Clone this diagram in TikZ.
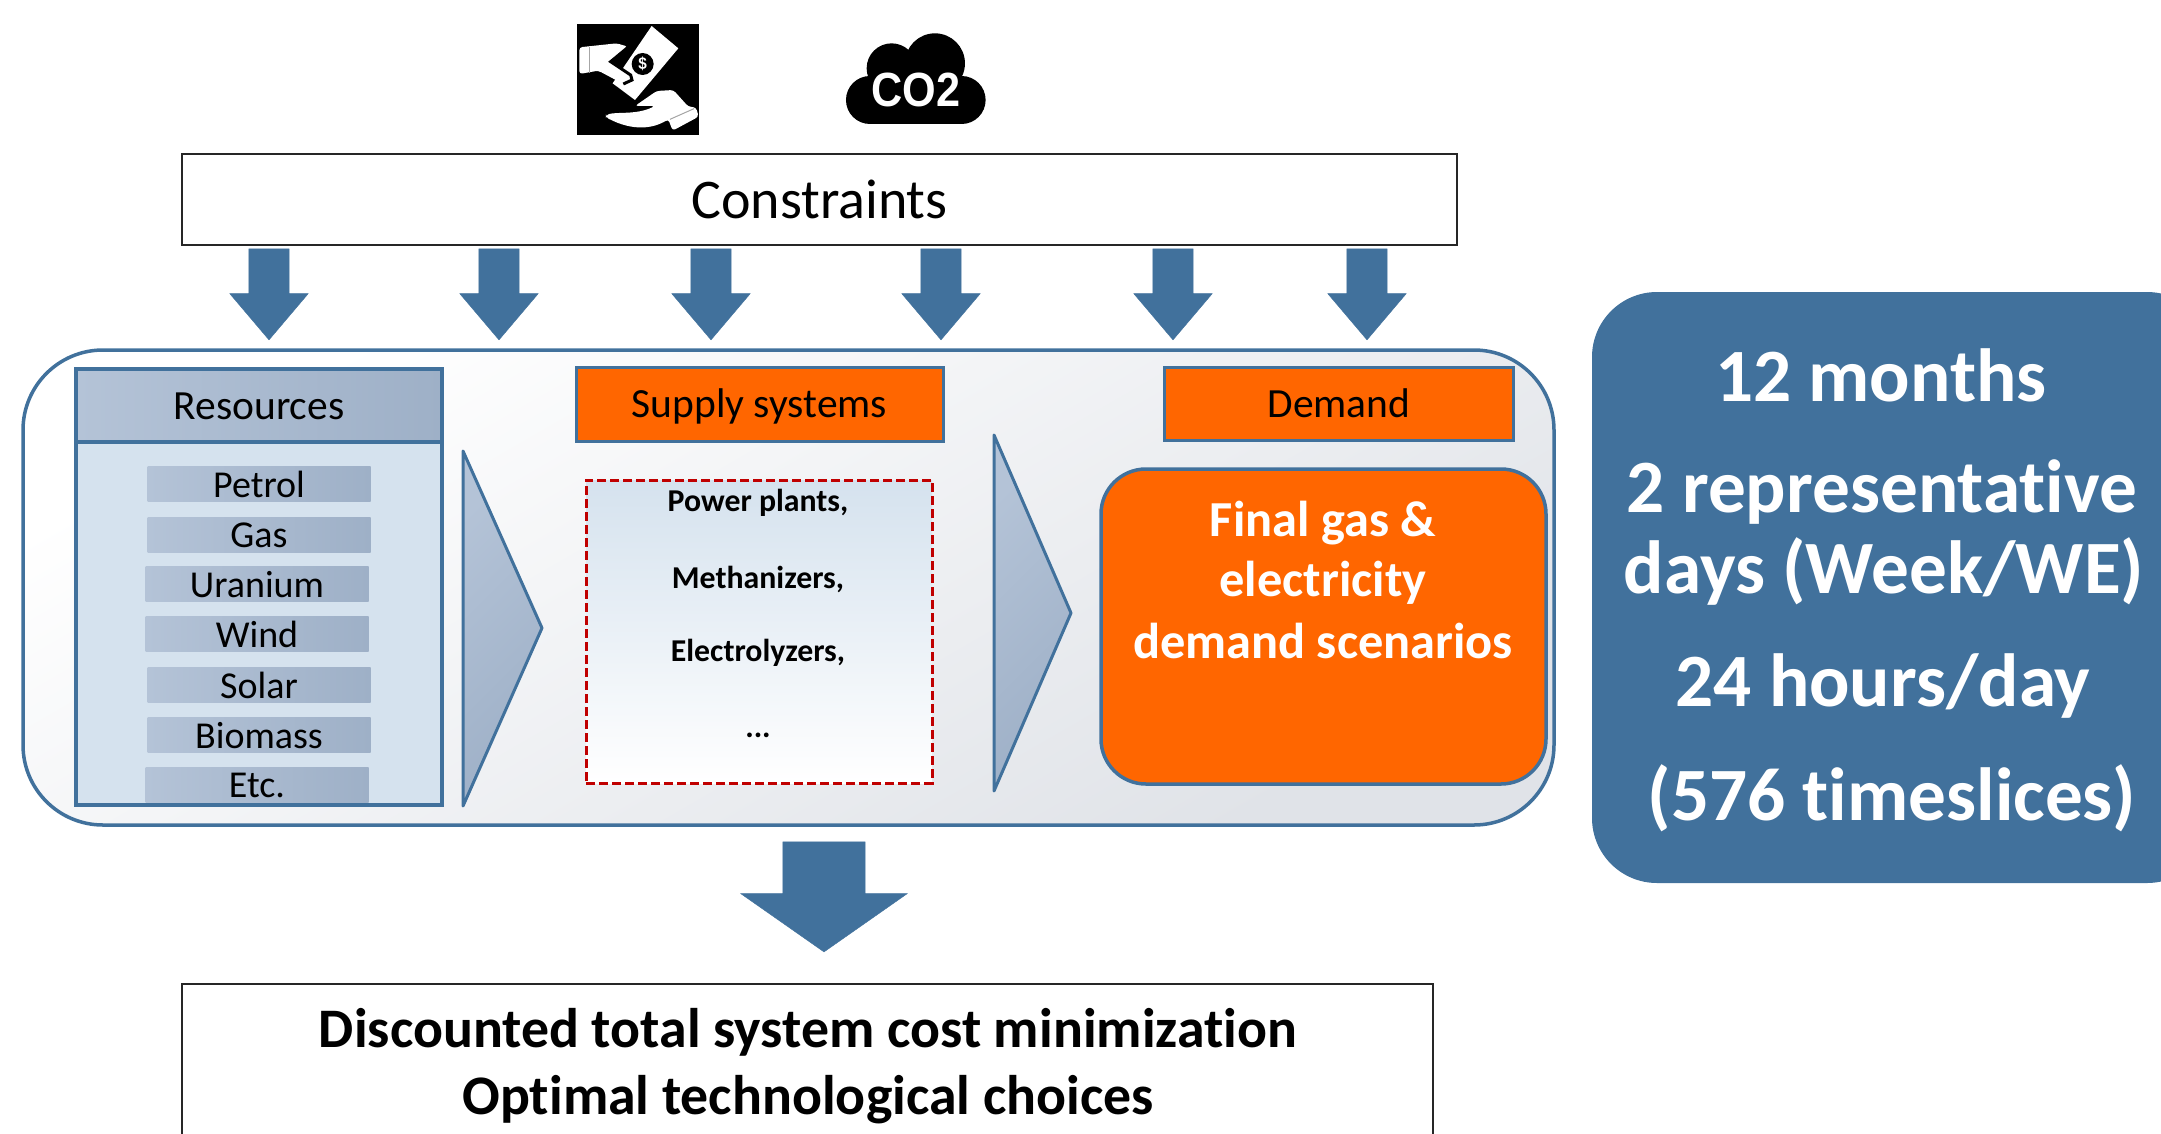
\documentclass[tikz,border=0pt]{standalone}
\usepackage{fontspec}
\setmainfont[Ligatures=NoCommon]{Carlito}
\newfontfamily\arialfont[FakeStretch=0.9]{Liberation Sans}
\usepackage{xcolor}
\definecolor{steel_blue}{RGB}{65,113,156}
\definecolor{flat_orange}{RGB}{255,102,0}
\definecolor{dash_red}{RGB}{192,0,0}
\definecolor{pale_blue}{RGB}{213,226,238}
\definecolor{head_light}{RGB}{180,195,215}
\definecolor{head_dark}{RGB}{158,176,199}
\definecolor{panel_dark}{RGB}{224,227,232}
\usetikzlibrary{shapes.arrows}
\newcommand{\fsize}[1]{\fontsize{#1}{#1}\selectfont}
\tikzset{
  downarrow/.style={shape=single arrow, shape border rotate=270, draw=steel_blue, fill=steel_blue, inner ysep=0pt, outer sep=0pt},
  smallarrow/.style={downarrow, inner xsep=20pt, minimum width=78pt, minimum height=91pt, single arrow head extend=19pt, single arrow tip angle=80.6},
  bigarrow/.style={downarrow, inner xsep=41pt, minimum width=166pt, minimum height=110pt, single arrow head extend=42pt, single arrow tip angle=110},
  itembar/.style={left color=head_light, right color=head_dark, minimum width=223pt, minimum height=35pt, inner sep=0pt, font=\fsize{38}, text depth=0pt},
  orangebox/.style={fill=flat_orange, draw=steel_blue, line width=3pt, inner sep=0pt, font=\fsize{41.5}},
  boxframe/.style={draw=black!85, line width=1.5pt, fill=white, inner sep=0pt},
  pointer/.style={left color=head_light, right color=head_dark, shading angle=45, draw=steel_blue, line width=3pt, line join=round},
  plantlabel/.style={font=\fsize{31.8}\bfseries},
  demandlabel/.style={font=\fsize{50.4}\bfseries, text=white},
  timelabel/.style={font=\fsize{75.3}\bfseries, text=white},
  resultlabel/.style={font=\fsize{55.8}\bfseries}
}
\begin{document}
\begin{tikzpicture}[x=1pt, y=-1pt]
\useasboundingbox (0,0) rectangle (2161,1133);

\begin{scope}[shift={(540,0)}, x=0.3333pt, y=-0.3333pt]
\fill[black] (110,73) rectangle (476,405);
\fill[white] (335,78) -- (415,145) -- (285,300) -- (218,250) -- cycle;
\fill[white, rounded corners=3pt] (118,142) -- (230,130) -- (264,140) -- (212,185) -- (272,225) -- (276,240) -- (250,252) -- (175,212) -- (118,222) -- cycle;
\draw[black, line width=3pt] (264,142) -- (212,185) -- (272,225) -- (276,240) -- (250,252);
\draw[black!35, line width=1pt] (149,142) -- (149,218);
\fill[white, rounded corners=3pt] (198,345) .. controls (230,335) and (290,345) .. (345,318) -- (285,318) -- (350,273) -- (400,270) -- (445,320) -- (468,322) -- (476,350) -- (398,392) -- (385,358) .. controls (340,385) and (280,395) .. (198,352) -- cycle;
\draw[black!35, line width=1pt] (390,358) -- (462,326);
\fill[black] (308,192) circle (33);
\node[white, font=\arialfont\bfseries\fsize{17}, inner sep=0pt] (dollar) at (308,192) {\$};
\fill[black] (1185,190) circle (90);
\fill[black] (1055,205) circle (75);
\fill[black] (990,300) circle (72);
\fill[black] (1265,300) circle (72);
\fill[black] (990,228) rectangle (1265,372);
\node[white, font=\arialfont\bfseries\fsize{48}, inner sep=0pt] (cotwo) at (1128,270) {CO2};
\end{scope}

\node[boxframe, minimum width=1275pt, minimum height=91pt, font=\fsize{56}] (constraints) at (819.5,199.5) {Constraints};

\node[smallarrow] (arrow_a) at (269,282.5) {};
\node[smallarrow] (arrow_b) at (499,282.5) {};
\node[smallarrow] (arrow_c) at (711,282.5) {};
\node[smallarrow] (arrow_d) at (941,282.5) {};
\node[smallarrow] (arrow_e) at (1173,282.5) {};
\node[smallarrow] (arrow_f) at (1367,282.5) {};

\node[draw=steel_blue, line width=3.5pt, rounded corners=80pt, top color=white, bottom color=panel_dark, shading angle=30, minimum width=1531pt, minimum height=475pt, inner sep=0pt] (panel) at (788.5,587.5) {};

\node[draw=steel_blue, line width=3.5pt, fill=pale_blue, minimum width=366pt, minimum height=436pt, inner sep=0pt] (resources) at (259,587) {};
\node[draw=steel_blue, line width=3.5pt, left color=head_light, right color=head_dark, minimum width=366pt, minimum height=73pt, inner sep=0pt, font=\fsize{41.5}, text height=30pt, text depth=3pt] (resources_head) at (259,405.5) {Resources};

\node[itembar] (petrol) at (259,484) {Petrol};
\node[itembar] (gas) at (259,535) {Gas};
\node[itembar] (uranium) at (257,584) {Uranium};
\node[itembar] (wind) at (257,634) {Wind};
\node[itembar] (solar) at (259,685) {Solar};
\node[itembar] (biomass) at (259,735) {Biomass};
\node[itembar] (etc) at (257,785) {Etc.};

\draw[pointer] (463,451) -- (542,628) -- (463,806) -- cycle;
\draw[pointer] (994,435) -- (1071,613) -- (994,791) -- cycle;

\node[orangebox, minimum width=367pt, minimum height=74pt, text height=30pt, text depth=3pt] (supply) at (759.5,404) {Supply systems};
\node[orangebox, minimum width=349pt, minimum height=73pt] (demand) at (1339,403.5) {Demand};

\node[draw=dash_red, dash pattern=on 9pt off 4pt, line width=3pt, top color=pale_blue, bottom color=white, minimum width=346pt, minimum height=303pt, inner sep=0pt] (plants) at (759,631.5) {};
\node[plantlabel] (plant_a) at (758,503) {Power plants,};
\node[plantlabel] (plant_b) at (758,579) {Methanizers,};
\node[plantlabel] (plant_c) at (758,653) {Electrolyzers,};
\node[plantlabel] (plant_d) at (758,735) {...};

\node[draw=steel_blue, line width=3.5pt, fill=flat_orange, rounded corners=45pt, minimum width=445pt, minimum height=315pt, inner sep=0pt] (scenarios) at (1323.5,626.5) {};
\node[demandlabel] (scenario_a) at (1323,523) {Final gas \&};
\node[demandlabel] (scenario_b) at (1323,583) {electricity};
\node[demandlabel] (scenario_c) at (1323,641) {demand scenarios};

\node[fill=steel_blue, rounded corners=65pt, minimum width=620pt, minimum height=591pt, inner sep=0pt] (timebox) at (1902,587.5) {};
\node[timelabel] (time_a) at (1881,375) {12 months};
\node[timelabel] (time_b) at (1882,492) {2 representative};
\node[timelabel] (time_c) at (1884,571) {days (Week/WE)};
\node[timelabel] (time_d) at (1883,686) {24 hours/day};
\node[timelabel] (time_e) at (1892,798) {(576 timeslices)};

\node[bigarrow] (arrow_main) at (824,882.5) {};

\node[boxframe, minimum width=1251pt, minimum height=200pt] (result) at (807.5,1084) {};
\node[resultlabel] (result_a) at (808,1032) {Discounted total system cost minimization};
\node[resultlabel] (result_b) at (808,1100) {Optimal technological choices};
\end{tikzpicture}
\end{document}
